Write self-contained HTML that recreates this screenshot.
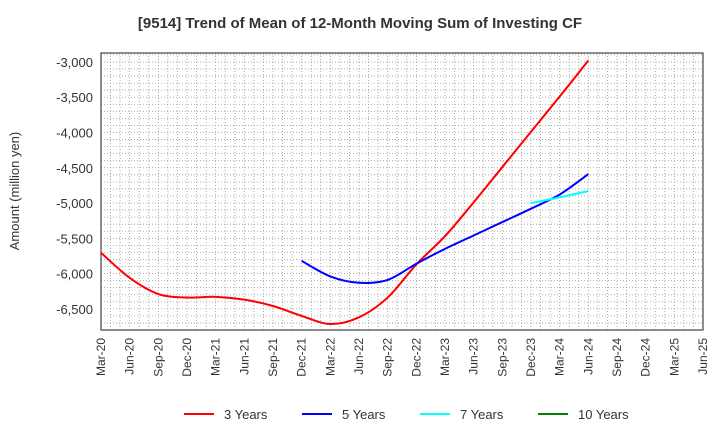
<!DOCTYPE html>
<html><head><meta charset="utf-8"><style>
body{margin:0;background:#fff;font-family:"Liberation Sans",Arial,sans-serif;}
svg text{font-family:"Liberation Sans",Arial,sans-serif;}
</style></head><body>
<svg id="chart" width="720" height="440" xmlns="http://www.w3.org/2000/svg">
<text x="360" y="28" text-anchor="middle" font-size="15" font-weight="bold" fill="#333">[9514]  Trend of Mean of 12-Month Moving Sum of Investing CF</text>
<text transform="translate(19,191) rotate(-90)" text-anchor="middle" font-size="13" fill="#333">Amount (million yen)</text>
<g id="grid"></g><g id="axes"></g><g id="series"></g><g id="legend"></g>
</svg>
<script>
const xLabels=["Mar-20","Jun-20","Sep-20","Dec-20","Mar-21","Jun-21","Sep-21","Dec-21","Mar-22","Jun-22","Sep-22","Dec-22","Mar-23","Jun-23","Sep-23","Dec-23","Mar-24","Jun-24","Sep-24","Dec-24","Mar-25","Jun-25"];
const yTicks=[-3000,-3500,-4000,-4500,-5000,-5500,-6000,-6500];
const seriesNames=["3 Years","5 Years","7 Years","10 Years"];
const seriesColors=["#ff0000","#0000ff","#00ffff","#008000"];
const s3Start=0;
const s3=[-5705,-6060,-6290,-6340,-6330,-6370,-6460,-6600,-6715,-6620,-6340,-5870,-5470,-4990,-4490,-3990,-3490,-2980];
const s5Start=7;
const s5=[-5820,-6040,-6130,-6090,-5860,-5650,-5460,-5270,-5080,-4880,-4590];
const s7Start=15;
const s7=[-5000,-4920,-4830];
const L=101,R=703,T=53,B=330,yMin=-6800,yMax=-2873;
const NS="http://www.w3.org/2000/svg";
function X(q){return L+(R-L)*q/21;}
function Y(v){return B-(v-yMin)/(yMax-yMin)*(B-T);}
function mk(tag,attrs,parent){const e=document.createElementNS(NS,tag);for(const k in attrs)e.setAttribute(k,attrs[k]);parent.appendChild(e);return e;}
const grid=document.getElementById('grid'),axes=document.getElementById('axes'),ser=document.getElementById('series'),leg=document.getElementById('legend');
for(let m=1;m<63;m++){const x=L+(R-L)*m/63;const ln=mk('line',{x1:x,x2:x,y1:T,y2:B,stroke:'#999','stroke-dasharray':'1,2','stroke-width':0.8},grid);

}
for(let v=-6700;v<=-2900;v+=100){const y=Y(v);const ln=mk('line',{x1:L,x2:R,y1:y,y2:y,stroke:'#999','stroke-dasharray':'1,2','stroke-width':0.8},grid);

}
const fr=mk('rect',{x:L,y:T,width:R-L,height:B-T,fill:'none',stroke:'#444','stroke-width':1.2},axes);


yTicks.forEach(v=>{const t=mk('text',{x:L-8,y:Y(v)+5,'text-anchor':'end','font-size':13,fill:'#333'},axes);t.textContent=v.toLocaleString('en-US');

});
xLabels.forEach((s,i)=>{const x=X(i);const t=mk('text',{transform:`translate(${x+4},${B+8}) rotate(-90)`,'text-anchor':'end','font-size':12,fill:'#333'},axes);t.textContent=s;

});
function path(start,arr){const p=arr.map((v,i)=>[X(start+i),Y(v)]);let d=`M${p[0][0]},${p[0][1]}`;
for(let i=0;i<p.length-1;i++){const p0=p[i-1]||p[i],p1=p[i],p2=p[i+1],p3=p[i+2]||p2;
d+=` C${p1[0]+(p2[0]-p0[0])/6},${p1[1]+(p2[1]-p0[1])/6} ${p2[0]-(p3[0]-p1[0])/6},${p2[1]-(p3[1]-p1[1])/6} ${p2[0]},${p2[1]}`;}return d;}
[[s3Start,s3,0],[s5Start,s5,1],[s7Start,s7,2]].forEach(([st,a,c])=>{const e=mk('path',{d:path(st,a),fill:'none',stroke:seriesColors[c],'stroke-width':2},ser);

});
const lx=[184,302,420,538];
seriesNames.forEach((n,i)=>{const g=mk('g',{},leg);


mk('line',{x1:lx[i],x2:lx[i]+30,y1:414,y2:414,stroke:seriesColors[i],'stroke-width':2},g);
const t=mk('text',{x:lx[i]+40,y:419,'font-size':13,fill:'#333'},g);t.textContent=n;});
</script>
</body></html>
